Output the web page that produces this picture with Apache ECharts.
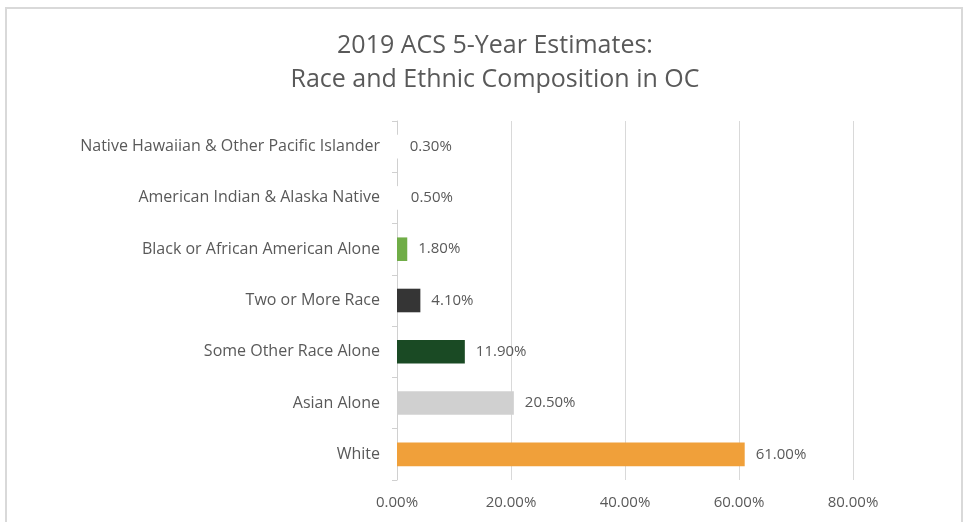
<!DOCTYPE html>
<html>
<head>
<meta charset="utf-8">
<script src="https://cdn.jsdelivr.net/npm/echarts@6/dist/echarts.min.js"></script>
<style>
  html, body { margin: 0; padding: 0; background: #ffffff; }
  #chart { width: 964px; height: 522px; }
</style>
</head>
<body>
<div id="chart"></div>
<script>
// Race and ethnic composition, Orange County (2019 ACS 5-year), bottom to top
const categories = [
  'White',
  'Asian Alone',
  'Some Other Race Alone',
  'Two or More Race',
  'Black or African American Alone',
  'American Indian & Alaska Native',
  'Native Hawaiian & Other Pacific Islander'
];
const shares = [61.0, 20.5, 11.9, 4.1, 1.8, 0.5, 0.3];
const barColors = ['#f0a03a', '#d0d0d0', '#1a4a24', '#353535', '#70ad47', '#ffffff', '#ffffff'];
const xTicks = [0, 20, 40, 60, 80];

const FONT = '"Open Sans", sans-serif';
const TEXT = '#595959';

const chart = echarts.init(document.getElementById('chart'));
chart.setOption({
  backgroundColor: '#ffffff',
  animation: false,
  title: {
    text: '2019 ACS 5-Year Estimates:\nRace and Ethnic Composition in OC',
    left: 490,
    textAlign: 'center',
    top: 24,
    textStyle: {
      fontFamily: FONT,
      fontSize: 25,
      fontWeight: 'normal',
      color: TEXT,
      lineHeight: 34
    }
  },
  graphic: [{
    type: 'rect',
    shape: { x: 6, y: 8, width: 956, height: 530 },
    style: { fill: 'none', stroke: '#d9d9d9', lineWidth: 2 },
    silent: true
  }],
  grid: { left: 397, right: 111, top: 121, bottom: 42, containLabel: false },
  xAxis: {
    type: 'value',
    min: xTicks[0],
    max: xTicks[xTicks.length - 1],
    interval: 20,
    axisLine: { show: false },
    axisTick: { show: false },
    splitLine: { show: true, lineStyle: { color: '#d9d9d9', width: 1 } },
    axisLabel: {
      formatter: v => v.toFixed(2) + '%',
      fontFamily: FONT,
      fontSize: 15,
      color: TEXT,
      margin: 15
    }
  },
  yAxis: {
    type: 'category',
    data: categories,
    axisLine: { show: true, lineStyle: { color: '#d0d0d0', width: 1 } },
    axisTick: { show: true, alignWithLabel: false, length: 5, inside: false, lineStyle: { color: '#d0d0d0' } },
    axisLabel: {
      fontFamily: FONT,
      fontSize: 16,
      color: TEXT,
      margin: 17
    }
  },
  series: [{
    type: 'bar',
    data: shares.map((v, i) => ({ value: v, itemStyle: { color: barColors[i] } })),
    barWidth: '46%',
    label: {
      show: true,
      position: 'right',
      distance: 11,
      formatter: p => p.value.toFixed(2) + '%',
      fontFamily: FONT,
      fontSize: 15,
      color: TEXT
    }
  }]
});
</script>
</body>
</html>
